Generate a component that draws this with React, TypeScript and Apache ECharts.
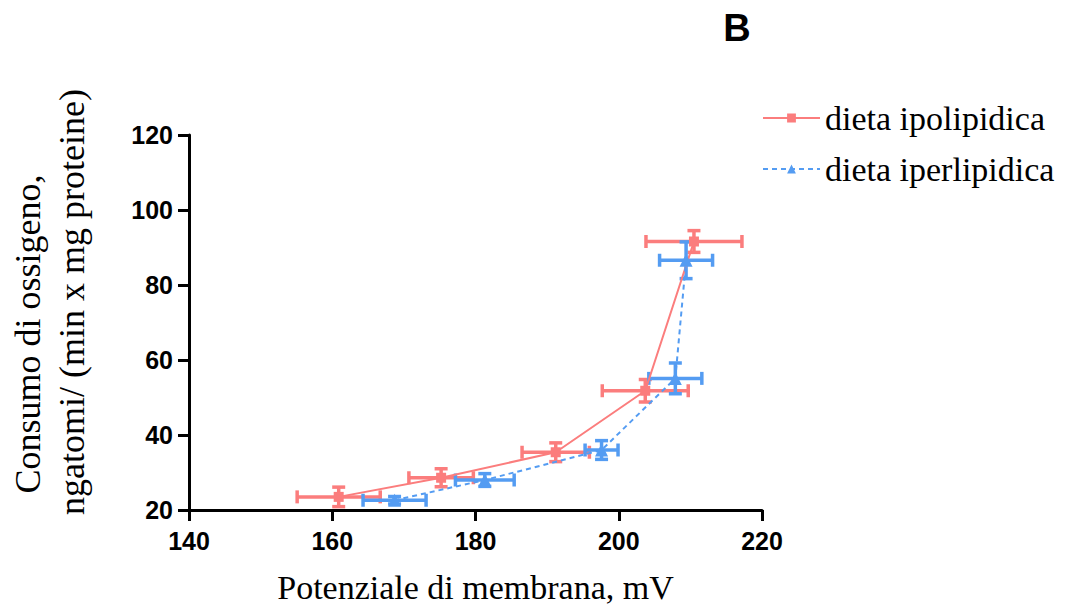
import React, { useEffect, useRef } from "react";
import * as echarts from "echarts";

const ipoX = [160.9, 175.2, 191.2, 203.7, 210.5];
const ipoY = [23.5, 28.6, 35.4, 51.8, 91.6];
const ipoXErr = [5.8, 4.5, 4.7, 6.0, 6.7];
const ipoYErr = [2.6, 2.4, 2.5, 3.0, 2.9];

const iperX = [168.7, 181.3, 197.6, 207.9, 209.4];
const iperY = [22.6, 28.0, 36.0, 55.1, 86.6];
const iperXErr = [4.4, 4.1, 2.3, 3.7, 3.7];
const iperYErr = [1.0, 1.7, 2.5, 4.1, 4.9];

const seriesNames = ["dieta ipolipidica", "dieta iperlipidica"];
const RED = "#FB7D7D";
const BLUE = "#549CF2";

const SERIF = "'Liberation Serif', 'Times New Roman', serif";
const SANS = "'Liberation Sans', Arial, sans-serif";

function errSeries(xs: number[], ys: number[], exs: number[], eys: number[], color: string) {
  const data = xs.map((x, i) => [x, ys[i], exs[i], eys[i]]);
  return {
    type: "custom",
    silent: true,
    z: 1,
    encode: { x: 0, y: 1 },
    data,
    renderItem: (_p: any, api: any) => {
      const x = api.value(0);
      const y = api.value(1);
      const ex = api.value(2);
      const ey = api.value(3);
      const l = api.coord([x - ex, y]);
      const r = api.coord([x + ex, y]);
      const t = api.coord([x, y + ey]);
      const b = api.coord([x, y - ey]);
      const cap = 6.5;
      const st = { stroke: color, lineWidth: 3.5, fill: "none" };
      const ln = (x1: number, y1: number, x2: number, y2: number) => ({
        type: "line",
        shape: { x1, y1, x2, y2 },
        style: st,
      });
      return {
        type: "group",
        children: [
          ln(l[0], l[1], r[0], r[1]),
          ln(l[0], l[1] - cap, l[0], l[1] + cap),
          ln(r[0], r[1] - cap, r[0], r[1] + cap),
          ln(t[0], t[1], b[0], b[1]),
          ln(t[0] - cap, t[1], t[0] + cap, t[1]),
          ln(b[0] - cap, b[1], b[0] + cap, b[1]),
        ],
      };
    },
  };
}

export default function App() {
  const ref = useRef<HTMLDivElement>(null);
  useEffect(() => {
    if (!ref.current) return;
    const chart = echarts.init(ref.current, null, { renderer: "svg" });
    const axisLabel = { color: "#000", fontFamily: SANS, fontWeight: "bold", fontSize: 25 };
    chart.setOption({
      animation: false,
      backgroundColor: "#fff",
      grid: { left: 189, right: 304, top: 135, bottom: 93 },
      legend: {
        data: seriesNames,
        orient: "vertical",
        left: 762,
        top: 101,
        padding: 0,
        itemWidth: 57,
        itemHeight: 11,
        itemGap: 17,
        textStyle: { fontFamily: SERIF, fontSize: 34, color: "#000", lineHeight: 34 },
      },
      xAxis: {
        type: "value",
        min: 140,
        max: 220,
        interval: 20,
        splitLine: { show: false },
        axisLine: { lineStyle: { color: "#000", width: 3 } },
        axisTick: { length: 11, lineStyle: { color: "#000", width: 3 } },
        axisLabel: { ...axisLabel, margin: 18 },
        name: "Potenziale di membrana, mV",
        nameLocation: "middle",
        nameGap: 60,
        nameTextStyle: { fontFamily: SERIF, fontSize: 34, color: "#000" },
      },
      yAxis: {
        type: "value",
        min: 20,
        max: 120,
        interval: 20,
        splitLine: { show: false },
        axisLine: { lineStyle: { color: "#000", width: 3 } },
        axisTick: { length: 11, lineStyle: { color: "#000", width: 3 } },
        axisLabel: { ...axisLabel, margin: 16 },
      },
      graphic: [
        {
          type: "text",
          x: 737,
          y: 28,
          style: { text: "B", font: `bold 38px ${SANS}`, fill: "#000", textAlign: "center", textVerticalAlign: "middle" },
        },
        {
          type: "text",
          x: 28,
          y: 334,
          rotation: Math.PI / 2,
          style: { text: "Consumo di ossigeno,", font: `36px ${SERIF}`, fill: "#000", textAlign: "center", textVerticalAlign: "middle" },
        },
        {
          type: "text",
          x: 72,
          y: 302,
          rotation: Math.PI / 2,
          style: { text: "ngatomi/ (min x mg proteine)", font: `36px ${SERIF}`, fill: "#000", textAlign: "center", textVerticalAlign: "middle" },
        },
      ],
      series: [
        errSeries(ipoX, ipoY, ipoXErr, ipoYErr, RED),
        errSeries(iperX, iperY, iperXErr, iperYErr, BLUE),
        {
          name: seriesNames[0],
          type: "line",
          z: 3,
          data: ipoX.map((x, i) => [x, ipoY[i]]),
          symbol: "rect",
          symbolSize: 10,
          color: RED,
          itemStyle: { color: RED },
          lineStyle: { color: RED, width: 2 },
        },
        {
          name: seriesNames[1],
          type: "line",
          z: 3,
          data: iperX.map((x, i) => [x, iperY[i]]),
          symbol: "triangle",
          symbolSize: 13,
          color: BLUE,
          itemStyle: { color: BLUE },
          lineStyle: { color: BLUE, width: 2, type: [5, 4] },
        },
      ],
    });
    return () => chart.dispose();
  }, []);
  return <div ref={ref} style={{ width: 1066, height: 609, position: "absolute", left: 0, top: 0 }} />;
}
